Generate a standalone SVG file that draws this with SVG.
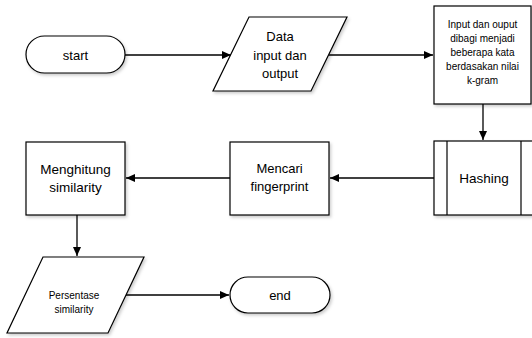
<svg xmlns="http://www.w3.org/2000/svg" width="532" height="338" viewBox="0 0 532 338">
<style>
.s{fill:#fff;stroke:#000;stroke-width:1.2;filter:url(#sh)}
.l{fill:none;stroke:#000;stroke-width:1.2}
.c{stroke:#000;stroke-width:1.3;fill:none;marker-end:url(#ah)}
text{font-family:"Liberation Sans",Arial,sans-serif;fill:#000;text-anchor:middle}
.t13{font-size:13px}
.t14{font-size:13.5px}
.t10{font-size:10px}
</style>
<defs>
<marker id="ah" markerWidth="10" markerHeight="8" refX="9" refY="4" orient="auto" markerUnits="userSpaceOnUse">
<path d="M0,0 L9,4 L0,8 z" fill="#000"/>
</marker>
<filter id="sh" x="-10%" y="-10%" width="130%" height="140%">
<feDropShadow dx="1.5" dy="2" stdDeviation="1.5" flood-color="#000" flood-opacity="0.2"/>
</filter>
</defs>
<g id="connectors">
<line class="c" x1="125" y1="55" x2="231" y2="55"/>
<line class="c" x1="329" y1="55" x2="433" y2="55"/>
<line class="c" x1="483" y1="104" x2="483" y2="140"/>
<line class="c" x1="434" y1="178" x2="330" y2="178"/>
<line class="c" x1="230" y1="178" x2="126" y2="178"/>
<line class="c" x1="77" y1="215" x2="77" y2="256"/>
<line class="c" x1="126" y1="295" x2="229" y2="295"/>
</g>
<g id="start">
<rect class="s" x="26" y="36" width="99" height="37" rx="18.5"/>
<text class="t13" x="75.5" y="59.5">start</text>
</g>
<g id="data">
<polygon class="s" points="249,17 347,17 311,91 213,91"/>
<text class="t13" x="280" y="41">Data</text>
<text class="t13" x="280" y="60">input dan</text>
<text class="t13" x="280" y="78">output</text>
</g>
<g id="split">
<rect class="s" x="434" y="6" width="97" height="98"/>
<text class="t10" x="482.5" y="28">Input dan ouput</text>
<text class="t10" x="482.5" y="42">dibagi menjadi</text>
<text class="t10" x="482.5" y="56">beberapa kata</text>
<text class="t10" x="482.5" y="70">berdasakan nilai</text>
<text class="t10" x="482.5" y="84">k-gram</text>
</g>
<g id="hashing">
<rect class="s" x="434" y="141" width="101" height="74"/>
<line class="l" x1="447" y1="141" x2="447" y2="215"/>
<line class="l" x1="521" y1="141" x2="521" y2="215"/>
<text class="t14" x="484" y="183">Hashing</text>
</g>
<g id="fingerprint">
<rect class="s" x="230" y="142" width="99" height="73"/>
<text class="t13" x="279.5" y="173">Mencari</text>
<text class="t13" x="279.5" y="191">fingerprint</text>
</g>
<g id="menghitung">
<rect class="s" x="26" y="142" width="99" height="73"/>
<text class="t14" x="75.5" y="174">Menghitung</text>
<text class="t14" x="75.5" y="192">similarity</text>
</g>
<g id="persentase">
<polygon class="s" points="43,257 144,257 108,333 7,333"/>
<text class="t10" x="74" y="299">Persentase</text>
<text class="t10" x="74" y="313">similarity</text>
</g>
<g id="end">
<rect class="s" x="230" y="277" width="100" height="36" rx="18"/>
<text class="t13" x="280" y="299.5">end</text>
</g>
</svg>
